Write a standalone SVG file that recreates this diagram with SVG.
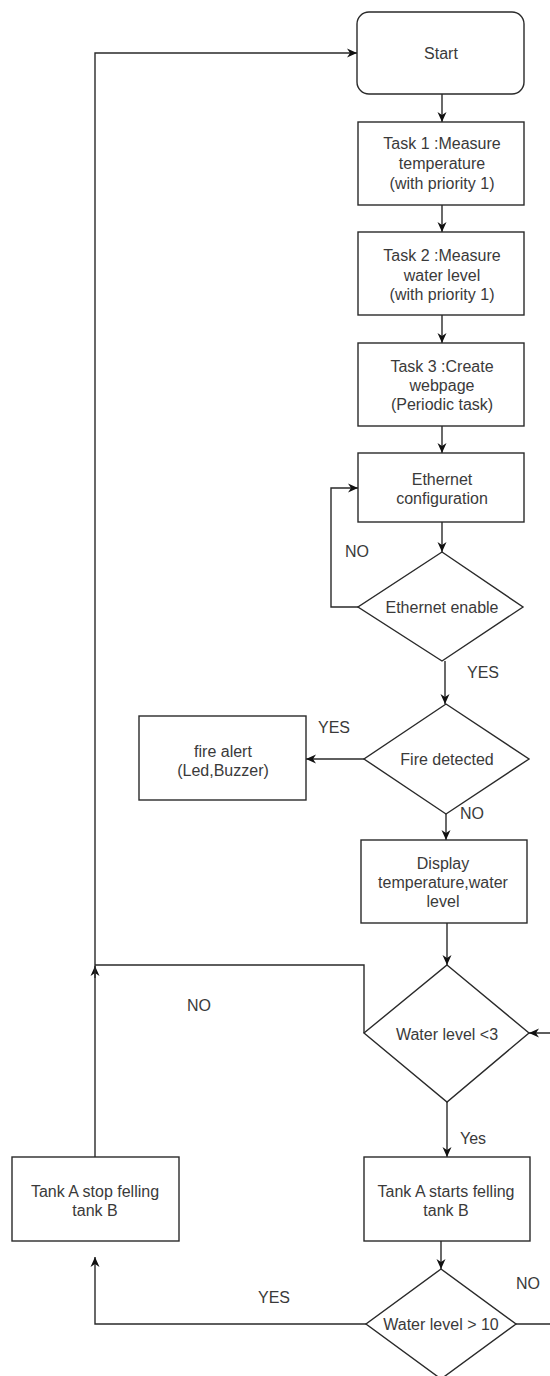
<svg xmlns="http://www.w3.org/2000/svg" width="550" height="1376" viewBox="0 0 550 1376">
<defs>
<style>
.n{fill:#fff;stroke:#2a2a2a;stroke-width:1.4}
.e{fill:none;stroke:#2a2a2a;stroke-width:1.4}
text{font-family:"Liberation Sans",Arial,sans-serif;font-size:16px;fill:#3a3a3a;text-anchor:middle}
</style>
<marker id="a" viewBox="0 0 10 10" refX="10" refY="5" markerWidth="10" markerHeight="10" markerUnits="userSpaceOnUse" orient="auto">
<path d="M0,0.5 L10,5 L0,9.5 L3,5 z" fill="#111"/>
</marker>
</defs>
<rect width="550" height="1376" fill="#fff"/>
<g id="connectors">
<path class="e" d="M442,94 V122" marker-end="url(#a)"/>
<path class="e" d="M442,205 V232" marker-end="url(#a)"/>
<path class="e" d="M442,315 V343" marker-end="url(#a)"/>
<path class="e" d="M442,426 V453" marker-end="url(#a)"/>
<path class="e" d="M442,522 V552" marker-end="url(#a)"/>
<path class="e" d="M358,607 H331 V488 H358" marker-end="url(#a)"/>
<path class="e" d="M445,661 V704" marker-end="url(#a)"/>
<path class="e" d="M364,759 H306" marker-end="url(#a)"/>
<path class="e" d="M446,814 V840" marker-end="url(#a)"/>
<path class="e" d="M447,923 V965" marker-end="url(#a)"/>
<path class="e" d="M364,1033 V965 H95"/>
<path class="e" d="M95,978 V966" marker-end="url(#a)"/>
<path class="e" d="M447,1102 V1157" marker-end="url(#a)"/>
<path class="e" d="M441,1241 V1269" marker-end="url(#a)"/>
<path class="e" d="M366,1324 H95 V1257" marker-end="url(#a)"/>
<path class="e" d="M516,1324 H560 V1033 H529" marker-end="url(#a)"/>
<path class="e" d="M95,1157 V53 H357" marker-end="url(#a)"/>
<text x="357" y="557">NO</text>
<text x="483" y="678">YES</text>
<text x="334" y="733">YES</text>
<text x="472" y="819">NO</text>
<text x="199" y="1011">NO</text>
<text x="473" y="1144">Yes</text>
<text x="274" y="1303">YES</text>
<text x="528" y="1289">NO</text>
</g>
<g id="start"><rect class="n" x="357" y="12" width="167" height="82" rx="12"/><text x="441" y="59">Start</text></g>
<g id="task1"><rect class="n" x="358" y="122" width="166" height="83"/><text x="442" y="149">Task 1 :Measure</text><text x="442" y="169">temperature</text><text x="442" y="189">(with priority 1)</text></g>
<g id="task2"><rect class="n" x="358" y="232" width="166" height="83"/><text x="442" y="261">Task 2 :Measure</text><text x="442" y="281">water level</text><text x="442" y="300">(with priority 1)</text></g>
<g id="task3"><rect class="n" x="358" y="343" width="166" height="83"/><text x="442" y="372">Task 3 :Create</text><text x="442" y="391">webpage</text><text x="442" y="410">(Periodic task)</text></g>
<g id="ethconfig"><rect class="n" x="358" y="453" width="166" height="69"/><text x="442" y="485">Ethernet</text><text x="442" y="504">configuration</text></g>
<g id="ethenable"><polygon class="n" points="442,552 523,607 442,661 358,607"/><text x="442" y="613">Ethernet enable</text></g>
<g id="fire"><polygon class="n" points="446,704 529,759 446,814 364,759"/><text x="447" y="765">Fire detected</text></g>
<g id="firealert"><rect class="n" x="139" y="716" width="167" height="84"/><text x="223" y="757">fire alert</text><text x="223" y="776">(Led,Buzzer)</text></g>
<g id="display"><rect class="n" x="361" y="840" width="166" height="83"/><text x="443" y="869">Display</text><text x="443" y="888">temperature,water</text><text x="443" y="907">level</text></g>
<g id="wl3"><polygon class="n" points="447,965 529,1033 447,1102 364,1033"/><text x="447" y="1040">Water level &lt;3</text></g>
<g id="tankstart"><rect class="n" x="364" y="1157" width="166" height="84"/><text x="446" y="1197">Tank A starts felling</text><text x="446" y="1216">tank B</text></g>
<g id="tankstop"><rect class="n" x="12" y="1157" width="167" height="84"/><text x="95" y="1197">Tank A stop felling</text><text x="95" y="1216">tank B</text></g>
<g id="wl10"><polygon class="n" points="441,1269 516,1324 441,1379 366,1324"/><text x="441" y="1330">Water level &gt; 10</text></g>
</svg>
